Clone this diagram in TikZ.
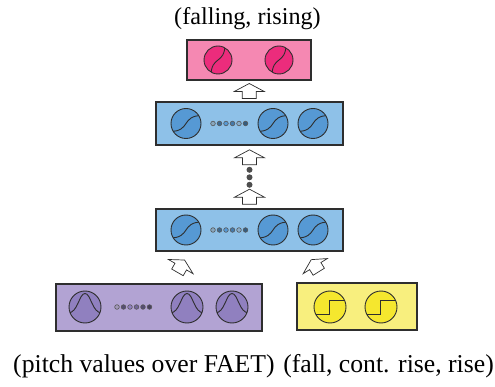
\documentclass[tikz,border=0pt]{standalone}
\usepackage{fontspec}
\setmainfont{Liberation Serif}
\usetikzlibrary{calc}
\definecolor{pinkbox}{HTML}{F588B2}
\definecolor{pinkc}{HTML}{EC2C7C}
\definecolor{bluebox}{HTML}{8EC1E8}
\definecolor{bluec}{HTML}{5699D4}
\definecolor{purplebox}{HTML}{B2A3D3}
\definecolor{purplec}{HTML}{9080BF}
\definecolor{yellowbox}{HTML}{F8EF7E}
\definecolor{yellowc}{HTML}{F5E72E}
\definecolor{edge}{HTML}{2E2E2E}
\tikzset{
  layer/.style={rectangle, draw=edge, line width=1.6pt, inner sep=0pt},
  neuron/.style={circle, draw=edge, line width=0.9pt, inner sep=0pt},
  curve/.style={draw=edge, line width=0.9pt},
  pinkn/.style={neuron, fill=pinkc, minimum size=28pt, path picture={
      \begin{scope}[shift={(path picture bounding box.center)}]
      \draw[curve] (7pt,16pt) .. controls (7pt,-5pt) and (-7pt,5pt) .. (-7pt,-16pt);
      \end{scope}}},
  bluen/.style={neuron, fill=bluec, minimum size=30pt, path picture={
      \begin{scope}[shift={(path picture bounding box.center)}]
      \draw[curve] (-16pt,-8pt) .. controls (5pt,-8pt) and (-5pt,8pt) .. (16pt,8pt);
      \end{scope}}},
  purplen/.style={neuron, fill=purplec, minimum size=32pt, path picture={
      \begin{scope}[shift={(path picture bounding box.center)}]
      \draw[curve] (-17pt,-6pt) .. controls (-7pt,-6pt) and (-6pt,13.5pt) .. (0pt,13.5pt)
                   .. controls (6pt,13.5pt) and (7pt,-6pt) .. (17pt,-6pt);
      \end{scope}}},
  yellown/.style={neuron, fill=yellowc, minimum size=32pt, path picture={
      \begin{scope}[shift={(path picture bounding box.center)}]
      \draw[curve] (-17pt,-7pt) -- (-1pt,-7pt) -- (-1pt,7pt) -- (17pt,7pt);
      \end{scope}}},
  smalldot/.style={circle, draw=edge!80, line width=0.6pt, minimum size=4.6pt, inner sep=0pt},
  bigdot/.style={circle, fill=edge!85, minimum size=6pt, inner sep=0pt},
  blockarrow/.pic={
    \draw[fill=white, draw=edge, line width=0.7pt]
      (0pt,7.5pt) -- (15pt,-0.5pt) -- (7pt,-0.5pt) -- (7pt,-7.5pt) -- (-7pt,-7.5pt)
      -- (-7pt,-0.5pt) -- (-15pt,-0.5pt) -- cycle;}
}
\begin{document}
\begin{tikzpicture}[x=1pt,y=-1pt]
\useasboundingbox (0,0) rectangle (495,387);
% layers
\node[layer, fill=pinkbox, minimum width=124pt, minimum height=40pt] (pink) at (249,60) {};
\node[layer, fill=bluebox, minimum width=187pt, minimum height=43pt] (blue2) at (249.5,123.5) {};
\node[layer, fill=bluebox, minimum width=187pt, minimum height=42pt] (blue1) at (249.5,230) {};
\node[layer, fill=purplebox, minimum width=206pt, minimum height=47pt] (purple) at (159,307.5) {};
\node[layer, fill=yellowbox, minimum width=120pt, minimum height=47pt] (yellow) at (357,306.5) {};
% neurons
\node[pinkn] (p1) at (218,60) {};
\node[pinkn] (p2) at (279,60) {};
\foreach \n/\y in {b2/123.5, b1/230}{
  \node[bluen] (\n a) at (186,\y) {};
  \node[bluen] (\n b) at (273,\y) {};
  \node[bluen] (\n c) at (313,\y) {};
  \foreach \i/\c in {0/bluebox!60!gray, 1/bluec!70!black, 2/bluec, 3/bluec!80!black, 4/bluebox!70!gray, 5/bluec!60!black}{
    \node[smalldot, fill=\c] (\n d\i) at (213+6.5*\i,\y) {};
  }
}
\node[purplen] (u1) at (85,307) {};
\node[purplen] (u2) at (187,307) {};
\node[purplen] (u3) at (232,307) {};
\foreach \i/\c in {0/purplebox!70!gray, 1/purplec!60!black, 2/purplec, 3/purplec!80!black, 4/purplec!60!black, 5/purplec!50!black}{
  \node[smalldot, fill=\c] (ud\i) at (117+6.5*\i,307) {};
}
\node[yellown] (y1) at (330,307) {};
\node[yellown] (y2) at (381,307) {};
% connectors (block arrows)
\path ($(pink.south)!0.5!(blue2.north)$) pic {blockarrow};
\path ($(blue2.south)+(0,11.5)$) pic {blockarrow};
\node[bigdot] (dot1) at ($(blue2.south)+(0,24)$) {};
\node[bigdot] (dot2) at ($(blue2.south)+(0,31.5)$) {};
\node[bigdot] (dot3) at ($(blue2.south)+(0,39)$) {};
\path ($(blue1.north)+(0,-11.5)$) pic {blockarrow};
\path ($(purple.north)+(22,-17)$) pic[rotate=-30, scale=0.95] {blockarrow};
\path ($(yellow.north)+(-42,-16.5)$) pic[rotate=32, scale=0.95] {blockarrow};
% labels
\node[font=\fontsize{24.2}{28}\selectfont] (top) at ($(pink.north)+(-1.5,-21)$) {(falling, rising)};
\node[anchor=west, inner sep=0pt, font=\fontsize{25.7}{30}\selectfont] (lbl1) at (13,366) {(pitch values over FAET)};
\node[anchor=east, inner sep=0pt, font=\fontsize{25.7}{30}\selectfont] (lbl2) at (494,366) {(fall, cont. rise, rise)};
\end{tikzpicture}
\end{document}
